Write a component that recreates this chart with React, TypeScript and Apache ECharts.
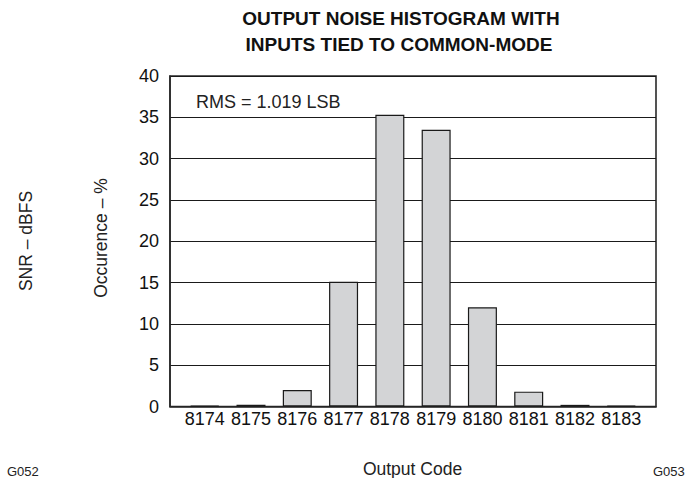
import React, { useEffect, useRef } from "react";
import * as echarts from "echarts";

const outputCodes = [8174, 8175, 8176, 8177, 8178, 8179, 8180, 8181, 8182, 8183];
const occurrence = [0.1, 0.2, 2.0, 15.1, 35.3, 33.5, 12.0, 1.8, 0.2, 0.1];
const yTicks = [0, 5, 10, 15, 20, 25, 30, 35, 40];
const titleLines = ["OUTPUT NOISE HISTOGRAM WITH", "INPUTS TIED TO COMMON-MODE"];
const FONT = "Arial, 'Liberation Sans', Helvetica, sans-serif";

export default function App() {
  const ref = useRef<HTMLDivElement>(null);
  useEffect(() => {
    if (!ref.current) return;
    const chart = echarts.init(ref.current, null, { renderer: "svg" });
    chart.setOption({
      animation: false,
      backgroundColor: "#ffffff",
      textStyle: { fontFamily: FONT },
      grid: {
        left: 170,
        right: 29,
        top: 76,
        bottom: 71.5,
        show: true,
        borderColor: "#2a2a2a",
        borderWidth: 1.6,
        backgroundColor: "transparent",
      },
      xAxis: {
        type: "value",
        min: 8173.25,
        max: 8183.75,
        axisLine: { show: true, lineStyle: { color: "#2a2a2a", width: 1.6 } },
        axisTick: { show: false },
        splitLine: { show: false },
        axisLabel: {
          color: "#111",
          fontSize: 18,
          margin: 3,
          fontFamily: FONT,
          customValues: outputCodes,
          formatter: (v: number) => String(Math.round(v)),
        },
      },
      yAxis: {
        type: "value",
        min: yTicks[0],
        max: yTicks[yTicks.length - 1],
        interval: 5,
        axisLine: { show: true, lineStyle: { color: "#2a2a2a", width: 1.6 } },
        axisTick: { show: false },
        axisLabel: { color: "#111", fontSize: 18, margin: 11, fontFamily: FONT },
        splitLine: { show: true, lineStyle: { color: "#1a1a1a", width: 1.2 } },
      },
      series: [
        {
          type: "bar",
          data: outputCodes.map((c, i) => [c, occurrence[i]]),
          barWidth: 29,
          itemStyle: { color: "#d3d4d6", borderColor: "#1a1a1a", borderWidth: 1.2 },
        },
      ],
      graphic: [
        {
          type: "text",
          x: 401,
          y: 18,
          style: {
            text: titleLines[0],
            font: `bold 19px ${FONT}`,
            fill: "#111",
            align: "center",
            verticalAlign: "middle",
          },
        },
        {
          type: "text",
          x: 399,
          y: 44,
          style: {
            text: titleLines[1],
            font: `bold 19px ${FONT}`,
            fill: "#111",
            align: "center",
            verticalAlign: "middle",
          },
        },
        {
          type: "text",
          x: 196,
          y: 102,
          style: { text: "RMS = 1.019 LSB", font: `18px ${FONT}`, fill: "#222", verticalAlign: "middle" },
        },
        {
          type: "text",
          x: 25.5,
          y: 241,
          rotation: Math.PI / 2,
          style: { text: "SNR – dBFS", font: `17.5px ${FONT}`, fill: "#222", align: "center", verticalAlign: "middle" },
        },
        {
          type: "text",
          x: 100.5,
          y: 238,
          rotation: Math.PI / 2,
          style: { text: "Occurence – %", font: `17.5px ${FONT}`, fill: "#222", align: "center", verticalAlign: "middle" },
        },
        {
          type: "text",
          x: 7,
          y: 471,
          style: { text: "G052", font: `13px ${FONT}`, fill: "#222", verticalAlign: "middle" },
        },
        {
          type: "text",
          x: 412.5,
          y: 468.5,
          style: { text: "Output Code", font: `17.5px ${FONT}`, fill: "#222", align: "center", verticalAlign: "middle" },
        },
        {
          type: "text",
          x: 653,
          y: 471,
          style: { text: "G053", font: `13px ${FONT}`, fill: "#222", verticalAlign: "middle" },
        },
      ],
    });
    return () => chart.dispose();
  }, []);
  return <div ref={ref} style={{ width: 685, height: 478, position: "fixed", left: 0, top: 0 }} />;
}
